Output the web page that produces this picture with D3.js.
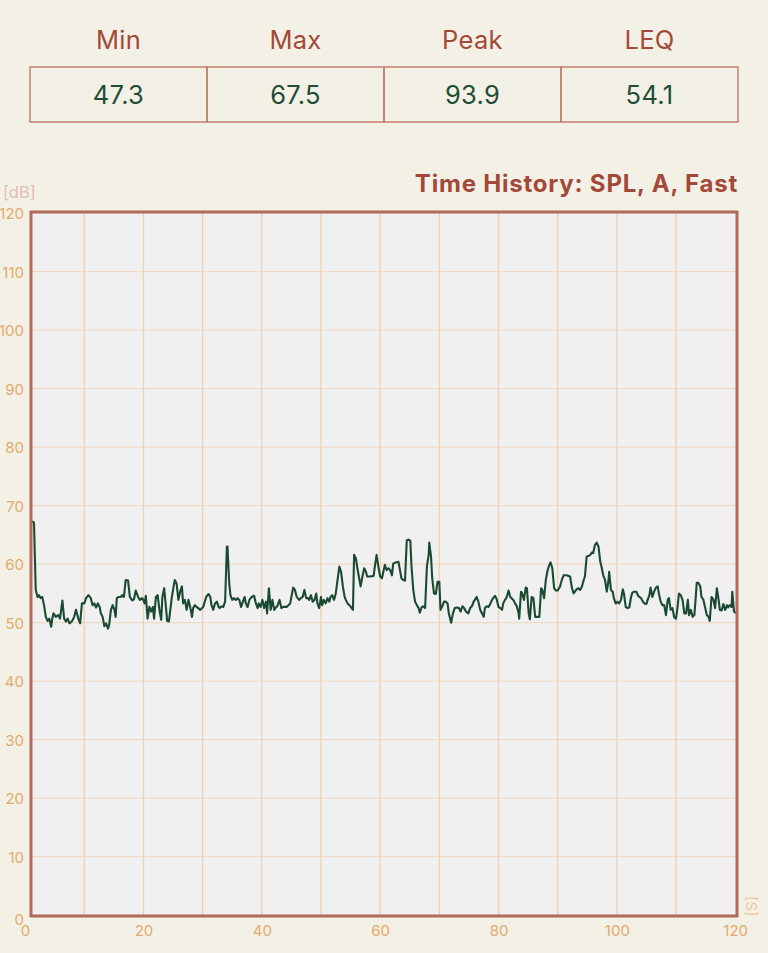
<!DOCTYPE html>
<html>
<head>
<meta charset="utf-8">
<script src="https://cdn.jsdelivr.net/npm/d3@7"></script>
<style>
  html, body { margin: 0; padding: 0; background: #f3f0e6; }
  svg { display: block; font-family: "Inter", "Roboto", "Noto Sans", sans-serif; }
</style>
</head>
<body>
<svg id="chart" width="768" height="953"></svg>
<script>
// ---- Data ----
const statLabels = ["Min", "Max", "Peak", "LEQ"];
const statValues = ["47.3", "67.5", "93.9", "54.1"];

const chartTitle = "Time History: SPL, A, Fast";
const yUnit = "[dB]";
const xUnit = "[S]";
const yTicks = [0, 10, 20, 30, 40, 50, 60, 70, 80, 90, 100, 110, 120];
const xTicks = [0, 20, 40, 60, 80, 100, 120];
const xGrid = [10, 20, 30, 40, 50, 60, 70, 80, 90, 100, 110];

const times = [
  1.2, 1.5, 1.8, 2.1, 2.35, 2.6, 2.9, 3.2, 3.5, 3.8, 4.1, 4.4, 4.6, 4.8, 5.2, 5.6, 5.9, 6.3, 6.6, 6.9,
  7.2, 7.5, 7.9, 8.3, 8.6, 9.0, 9.3, 9.6, 10.0, 10.3, 10.7, 11.1, 11.4, 11.7, 12.0, 12.3, 12.6, 12.8, 13.1, 13.4,
  13.7, 14.0, 14.2, 14.5, 14.8, 15.1, 15.3, 15.5, 15.8, 16.2, 16.4, 16.7, 17.0, 17.4, 17.7, 18.1, 18.4, 18.7, 19.1, 19.4,
  19.8, 20.2, 20.4, 20.7, 21.0, 21.3, 21.6, 21.8, 22.1, 22.4, 22.7, 23.0, 23.2, 23.5, 23.8, 24.0, 24.3, 24.6, 24.8, 25.1,
  25.3, 25.6, 25.9, 26.2, 26.5, 26.7, 27.0, 27.3, 27.6, 27.9, 28.2, 28.4, 28.7, 29.0,
  29.6, 30.1, 30.6, 31.0, 31.3, 31.5, 31.8, 32.1, 32.4, 32.7, 32.9, 33.2, 33.5, 33.8, 34.1, 34.2, 34.5, 34.7, 35.0, 35.3,
  35.6, 35.9, 36.2, 36.5, 36.8, 37.1, 37.3, 37.6, 37.9, 38.3, 38.7, 39.0, 39.3, 39.5, 39.8, 40.1, 40.4, 40.7, 40.9, 41.2,
  41.5, 41.8, 42.1, 42.3, 42.6, 43.0, 43.3, 43.6, 44.2, 44.8, 45.0, 45.3, 45.6, 45.9, 46.3, 46.6, 46.9, 47.2, 47.5, 47.8,
  48.0, 48.3, 48.6, 48.9, 49.2, 49.4, 49.7, 50.0, 50.2, 50.5, 50.8, 51.1, 51.4, 51.6, 51.9, 52.2, 52.5, 52.8, 53.1, 53.4,
  53.7, 54.0, 54.2, 54.5, 54.8, 55.1, 55.4, 55.6, 55.9, 56.2, 56.4, 56.7, 57.0, 57.3, 57.6, 57.8, 58.3, 58.9, 59.1, 59.4,
  59.7,
  60.0, 60.3, 60.6, 60.8, 61.1, 61.4, 61.7, 62.0, 62.2, 62.6, 63.1, 63.4, 63.6, 63.9, 64.2, 64.5, 64.8, 65.1, 65.3, 65.6,
  65.9, 66.2, 66.5, 66.7, 67.0, 67.3, 67.6, 67.9, 68.2, 68.3, 68.6, 68.8, 69.1, 69.4, 69.7, 70.0, 70.2, 70.5, 70.8, 71.1,
  71.4, 71.6, 72.0, 72.3, 72.6, 73.0, 73.3, 73.6, 73.9, 74.2, 74.5, 74.9, 75.2, 75.5, 75.8, 76.0, 76.3, 76.6, 76.9, 77.2,
  77.5, 77.7, 78.0, 78.3, 78.6, 78.9, 79.1, 79.4, 79.7, 80.0, 80.3, 80.6, 80.8, 81.1, 81.4, 81.7, 82.0, 82.2, 82.5, 82.8,
  83.1, 83.4, 83.5, 83.8, 84.0, 84.3, 84.6, 84.8, 85.1, 85.3, 85.6, 85.9, 86.2, 86.5, 86.9, 87.2, 87.4, 87.7, 88.0, 88.3,
  88.6, 88.8, 89.1, 89.4, 89.7, 90.0,
  90.4, 90.7, 91.0, 91.5, 92.1, 92.4, 92.7, 92.9, 93.2, 93.5, 93.8, 94.1, 94.4, 94.6, 94.9, 95.2, 95.5, 95.8, 96.0, 96.3,
  96.6, 96.9, 97.2, 97.4, 97.7, 98.0, 98.3, 98.6, 98.7, 99.0, 99.3, 99.5, 99.8, 100.1, 100.4, 100.7, 101.0, 101.2, 101.5, 101.8,
  102.1, 102.4, 102.6, 102.9, 103.3, 103.6, 103.8, 104.1, 104.4, 104.7, 105.0, 105.2, 105.5, 105.7, 106.0, 106.3, 106.6, 106.9, 107.1, 107.4,
  107.7, 108.0, 108.3, 108.6, 108.8, 109.1, 109.4, 109.7, 110.0, 110.2, 110.5, 110.8, 111.1, 111.4, 111.7, 112.0, 112.2, 112.5, 112.8, 113.1,
  113.3, 113.5, 113.8, 114.1, 114.3, 114.6, 114.9, 115.2, 115.5, 115.7, 116.0, 116.3, 116.6, 116.9, 117.2, 117.4, 117.7, 118.0, 118.3, 118.6,
  118.8, 119.1, 119.4, 119.5, 119.8, 120.1
];

const splValues = [
  67.4, 67.1, 55.6, 54.4, 54.7, 54.2, 54.4, 53.0, 51.0, 50.3, 50.7, 49.3, 50.7, 51.6, 51.0, 51.3, 50.7, 53.8, 50.7, 50.2,
  50.7, 49.9, 50.2, 51.0, 52.2, 50.7, 49.9, 53.3, 53.3, 54.2, 54.7, 54.2, 53.0, 53.3, 52.6, 53.3, 52.7, 51.6, 51.0, 49.4,
  49.9, 49.0, 49.6, 52.2, 53.0, 52.2, 51.0, 54.2, 54.4, 54.4, 54.7, 54.4, 57.3, 57.2, 54.4, 53.8, 54.0, 55.5, 54.4, 53.9,
  54.2, 53.3, 54.6, 50.7, 52.7, 51.9, 52.7, 50.7, 54.4, 54.7, 52.2, 50.5, 54.4, 55.9, 52.7, 50.3, 50.2, 52.7, 54.4, 56.2,
  57.3, 56.7, 53.9, 55.3, 56.2, 53.3, 53.9, 52.2, 53.9, 52.7, 51.0, 52.5, 53.0, 52.7,
  52.2, 52.7, 54.4, 54.9, 54.4, 53.0, 52.2, 53.3, 53.6, 52.7, 52.5, 52.8, 52.7, 53.6, 63.0, 63.0, 56.7, 54.7, 53.9, 54.2,
  53.9, 54.2, 53.9, 52.7, 53.6, 54.4, 53.3, 52.7, 53.9, 54.4, 54.6, 53.3, 52.5, 53.3, 52.7, 53.9, 52.5, 53.6, 51.6, 55.9,
  52.2, 53.9, 52.2, 52.5, 52.8, 53.9, 52.5, 52.7, 52.7, 53.3, 54.4, 56.0, 55.6, 54.4, 53.9, 54.2, 54.4, 55.6, 54.2, 54.2,
  53.9, 54.7, 53.6, 53.9, 55.0, 53.3, 52.5, 54.4, 53.0, 53.9, 53.3, 54.2, 53.6, 54.4, 54.7, 53.9, 55.0, 57.3, 59.6, 58.7,
  56.2, 54.4, 53.9, 53.3, 53.0, 52.6, 52.2, 61.6, 61.0, 59.0, 57.9, 56.2, 57.9, 59.3, 58.7, 57.9, 57.9, 58.0, 59.6, 61.6,
  59.6,
  57.9, 57.6, 59.0, 59.9, 59.0, 59.3, 59.0, 58.1, 60.1, 60.3, 60.4, 58.7, 57.6, 57.3, 57.2, 64.1, 64.2, 64.0, 59.6, 55.6,
  53.6, 53.0, 52.5, 51.7, 52.6, 52.8, 52.5, 59.6, 61.6, 63.7, 61.3, 57.6, 55.0, 54.9, 57.0, 57.0, 52.2, 52.8, 53.6, 53.6,
  53.3, 51.6, 50.0, 51.6, 52.5, 52.6, 52.5, 51.9, 52.8, 52.5, 51.9, 51.6, 52.5, 52.8, 53.6, 53.9, 54.4, 53.6, 52.2, 51.6,
  51.0, 52.5, 52.8, 52.7, 53.2, 53.9, 54.2, 54.6, 54.0, 52.7, 52.5, 52.2, 53.3, 53.9, 54.4, 55.5, 54.4, 54.2, 53.9, 53.3,
  52.8, 51.6, 50.7, 55.3, 55.0, 53.9, 56.0, 55.9, 51.6, 50.6, 54.4, 54.2, 51.0, 51.0, 51.0, 55.9, 55.6, 54.2, 57.3, 59.0,
  59.9, 60.3, 59.3, 55.9, 55.5, 55.5,
  56.2, 57.3, 58.1, 58.1, 57.9, 56.0, 55.0, 55.3, 55.7, 55.9, 55.6, 56.2, 57.3, 57.9, 61.3, 61.4, 61.6, 62.0, 61.9, 63.3,
  63.7, 63.0, 60.4, 59.6, 58.1, 57.3, 55.3, 57.3, 58.7, 55.6, 55.3, 54.2, 53.3, 53.6, 53.3, 53.9, 55.7, 55.0, 52.7, 52.5,
  52.6, 54.4, 55.1, 55.3, 55.3, 54.6, 54.4, 54.2, 53.6, 53.3, 53.2, 53.9, 54.7, 56.0, 54.4, 55.3, 56.0, 56.2, 55.0, 53.6,
  53.0, 53.0, 51.3, 53.9, 54.2, 52.2, 52.5, 50.9, 50.7, 52.2, 55.0, 54.7, 53.9, 51.6, 51.6, 53.9, 51.3, 52.2, 51.0, 51.3,
  53.9, 56.8, 56.8, 56.2, 54.4, 54.0, 52.7, 51.3, 51.0, 50.3, 54.4, 54.0, 52.5, 55.9, 53.9, 52.2, 52.1, 53.2, 52.2, 53.0,
  52.6, 53.0, 52.7, 55.3, 51.9, 51.6
];

// ---- Layout ----
const svg = d3.select("#chart");
const frame = { left: 31, right: 737, top: 212, bottom: 916 };

const x = d3.scaleLinear().domain([0, 120]).range([25.1, 735.2]);
const y = d3.scaleLinear().domain([0, 120]).range([915.2, 213.2]);

// ---- Stats table ----
const table = { left: 30, right: 738, top: 67, bottom: 122 };
const cols = d3.scaleBand().domain(statLabels).range([table.left, table.right]);

svg.append("g").selectAll("text").data(statLabels).join("text")
  .attr("x", d => cols(d) + cols.bandwidth() / 2)
  .attr("y", 49)
  .attr("text-anchor", "middle")
  .attr("font-size", 25.5)
  .attr("letter-spacing", 0.3)
  .attr("fill", "#a3493a")
  .text(d => d);

svg.append("g").selectAll("rect").data(statLabels).join("rect")
  .attr("x", d => cols(d))
  .attr("y", table.top)
  .attr("width", cols.bandwidth())
  .attr("height", table.bottom - table.top)
  .attr("fill", "none")
  .attr("stroke", "#c27f70")
  .attr("stroke-width", 1.5);

svg.append("g").selectAll("text").data(statValues).join("text")
  .attr("x", (d, i) => cols(statLabels[i]) + cols.bandwidth() / 2)
  .attr("y", 104)
  .attr("text-anchor", "middle")
  .attr("font-size", 25.5)
  .attr("letter-spacing", 0.3)
  .attr("fill", "#1f4d36")
  .text(d => d);

// ---- Title & units ----
svg.append("text")
  .attr("x", 738).attr("y", 192)
  .attr("text-anchor", "end")
  .attr("font-size", 24).attr("font-weight", 700)
  .attr("letter-spacing", 0.8)
  .attr("fill", "#a3493a")
  .text(chartTitle);

svg.append("text")
  .attr("x", 3).attr("y", 198)
  .attr("font-size", 16.5)
  .attr("fill", "#e5bfae")
  .text(yUnit);

svg.append("text")
  .attr("transform", "translate(746,896) rotate(90)")
  .attr("font-size", 15)
  .attr("fill", "#edc9a0")
  .text(xUnit);

// ---- Plot area ----
svg.append("rect")
  .attr("x", frame.left).attr("y", frame.top)
  .attr("width", frame.right - frame.left)
  .attr("height", frame.bottom - frame.top)
  .attr("fill", "#f0f0f0");

const grid = svg.append("g");
grid.selectAll("line.h").data(yTicks.filter(d => d > 0 && d < 120)).join("line")
  .attr("class", "h")
  .attr("x1", frame.left).attr("x2", frame.right)
  .attr("y1", d => y(d)).attr("y2", d => y(d))
  .attr("stroke", "#f2d6bc").attr("stroke-width", 1);

grid.selectAll("line.v").data(xGrid).join("line")
  .attr("class", "v")
  .attr("x1", d => x(d)).attr("x2", d => x(d))
  .attr("y1", frame.top).attr("y2", frame.bottom)
  .attr("stroke", "#efd2b6").attr("stroke-width", 1.4);

// clip
svg.append("clipPath").attr("id", "clip")
  .append("rect")
  .attr("x", frame.left).attr("y", frame.top)
  .attr("width", frame.right - frame.left)
  .attr("height", frame.bottom - frame.top);

const series = times.map((t, i) => ({ t, v: splValues[i] }));
const line = d3.line().x(d => x(d.t)).y(d => y(d.v));

svg.append("path")
  .datum(series)
  .attr("clip-path", "url(#clip)")
  .attr("d", line)
  .attr("fill", "none")
  .attr("stroke", "#1b4a32")
  .attr("stroke-width", 2.1)
  .attr("stroke-linejoin", "round");

// frame border
svg.append("rect")
  .attr("x", frame.left).attr("y", frame.top)
  .attr("width", frame.right - frame.left)
  .attr("height", frame.bottom - frame.top)
  .attr("fill", "none")
  .attr("stroke", "#b3695a")
  .attr("stroke-width", 3);

// ---- Axes labels ----
const yAxis = d3.axisLeft(y).tickValues(yTicks).tickSize(0).tickPadding(0);
const gy = svg.append("g").attr("transform", "translate(24,0)").call(yAxis);
gy.select(".domain").remove();
gy.selectAll("text")
  .attr("font-size", 15)
  .attr("font-family", "Inter, Roboto, sans-serif")
  .attr("fill", "#e3aa6c")
  .attr("dy", (d, i) => d === 0 ? "0.6em" : "0.37em");

const xAxis = d3.axisBottom(x).tickValues(xTicks).tickSize(0).tickPadding(0);
const gx = svg.append("g").attr("transform", "translate(0,925)").call(xAxis);
gx.select(".domain").remove();
gx.selectAll("text")
  .attr("font-size", 15)
  .attr("font-family", "Inter, Roboto, sans-serif")
  .attr("fill", "#e3aa6c")
  .attr("dy", "0.71em");
</script>
</body>
</html>
